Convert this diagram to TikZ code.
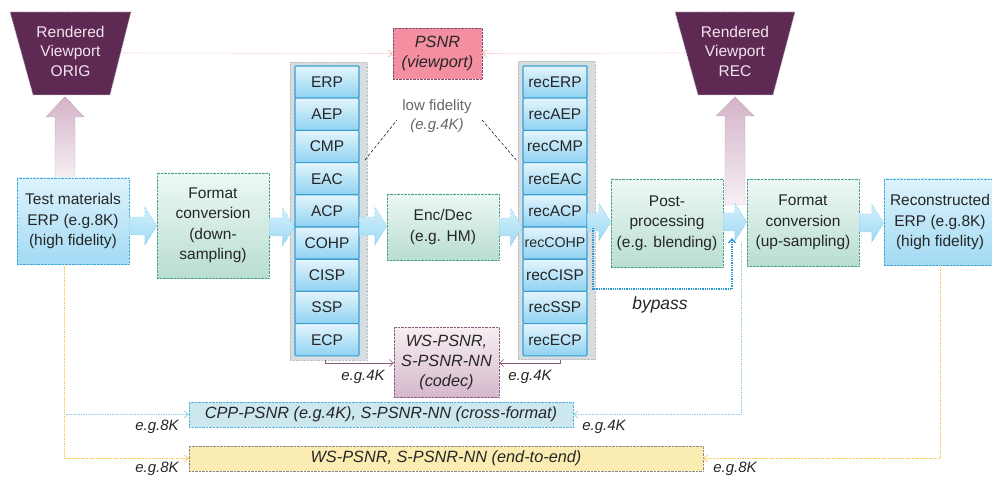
\documentclass[tikz,border=0pt]{standalone}
\usepackage{fontspec}
\setmainfont{Liberation Sans}
\usetikzlibrary{arrows.meta,calc}
\definecolor{plum}{HTML}{5E2A54}
\definecolor{plumtxt}{HTML}{F2E4EE}
\definecolor{bbord}{HTML}{3DA9DA}
\definecolor{btop}{HTML}{DDF3FC}
\definecolor{bbot}{HTML}{A3DAF4}
\definecolor{gbord}{HTML}{4B9C8A}
\definecolor{gtop}{HTML}{EDF8F4}
\definecolor{gbot}{HTML}{B9DED1}
\definecolor{ctop}{HTML}{E4F5FD}
\definecolor{cbot}{HTML}{8FD2F2}
\definecolor{cbord}{HTML}{3A9FD0}
\definecolor{colbgc}{HTML}{D6DDE1}
\definecolor{psnrfill}{HTML}{F48FA1}
\definecolor{psnrbord}{HTML}{7E5068}
\definecolor{ktop}{HTML}{F6EFF3}
\definecolor{kbot}{HTML}{D5B8CA}
\definecolor{kbord}{HTML}{8C5C7E}
\definecolor{cppfill}{HTML}{CDE7EF}
\definecolor{cppbord}{HTML}{4EB2DA}
\definecolor{yelfill}{HTML}{FBEDB2}
\definecolor{yelbord}{HTML}{8A8A8A}
\definecolor{ylinec}{HTML}{F7C948}
\definecolor{blinec}{HTML}{8FCFE6}
\definecolor{bypc}{HTML}{2A98D2}
\definecolor{pinkline}{HTML}{F4A0B0}
\definecolor{parrtop}{HTML}{D3B4C8}
\definecolor{parrbot}{HTML}{F7EFF4}
\definecolor{parrbord}{HTML}{6E3A62}
\definecolor{txt}{HTML}{262626}
\definecolor{blktop}{HTML}{D3F0FC}
\definecolor{blkbot}{HTML}{A0D9F3}
\definecolor{kline}{HTML}{8C5C7E}
\newcommand\hblk[3]{%
  \draw[blk] ($(#1.east |- 0,#3)+(0,-9)$) -- ($(#2.west |- 0,#3)+(-12,-9)$)
    -- ($(#2.west |- 0,#3)+(-12,-19)$) -- (#2.west |- 0,#3)
    -- ($(#2.west |- 0,#3)+(-12,19)$) -- ($(#2.west |- 0,#3)+(-12,9)$)
    -- ($(#1.east |- 0,#3)+(0,9)$) -- cycle;}
\begin{document}
\begin{tikzpicture}[x=1pt,y=-1pt,
  every node/.style={font=\fontsize{15.5}{20.5}\selectfont, text=txt, align=center, inner sep=0pt},
  bluebox/.style={draw=bbord, densely dotted, top color=btop, bottom color=bbot},
  greenbox/.style={draw=gbord, densely dotted, top color=gtop, bottom color=gbot},
  cellbox/.style={draw=cbord, line width=1.1pt, rounded corners=1pt, top color=ctop, bottom color=cbot, minimum width=64, minimum height=32.2},
  colback/.style={fill=colbgc, draw=gray!50, densely dotted, minimum width=77, minimum height=298},
  blk/.style={draw=bbord, densely dotted, top color=blktop, bottom color=blkbot},
  parr/.style={draw=parrbord, densely dotted, top color=parrtop, bottom color=parrbot},
  trap/.style={fill=plum, draw=gray!40, densely dotted, line width=0.8pt},
  ital/.style={font=\fontsize{16.3}{20}\selectfont\itshape},
  small/.style={font=\fontsize{15}{17}\selectfont\itshape, text=txt},
  plink/.style={draw=pinkline, densely dotted, line width=0.6pt, -{Straight Barb[length=4pt,width=7pt]}},
  klink/.style={draw=kline, line width=0.6pt, -{Straight Barb[length=4pt,width=7pt]}},
  ylink/.style={draw=ylinec, densely dotted, line width=0.7pt, -{Straight Barb[length=4pt,width=7pt]}},
  blink/.style={draw=blinec, densely dotted, line width=0.7pt, -{Straight Barb[length=4pt,width=7pt]}},
  bylink/.style={draw=bypc, densely dotted, line width=1.3pt, -{Straight Barb[length=4pt,width=7pt]}}
]
\useasboundingbox (0,0) rectangle (992,478);

% rendered viewports
\draw[trap] (10,12) -- (131,12) -- (110,95) -- (33,95) -- cycle;
\node[text=plumtxt, font=\fontsize{15.5}{19.5}\selectfont] (orig) at (70.5,51) {Rendered\\Viewport\\ORIG};
\draw[trap] (675,12) -- (795,12) -- (773,95) -- (698,95) -- cycle;
\node[text=plumtxt, font=\fontsize{15.5}{19.5}\selectfont] (rec) at (735,51) {Rendered\\Viewport\\REC};
\coordinate (origR) at (120.5,53);
\coordinate (recL) at (686,53);

% PSNR viewport
\node[draw=psnrbord, densely dotted, fill=psnrfill, minimum width=89, minimum height=51, ital] (psnr) at (437.5,53.5) {PSNR\\(viewport)};
\draw[plink] (origR) -- (psnr.west);
\draw[plink] (recL) -- (psnr.east);

% pink upward arrows
\draw[parr] (55,178) -- (55,117) -- (46,117) -- (65,97) -- (84,117) -- (75,117) -- (75,178) -- cycle;
\draw[parr] (725,205) -- (725,116) -- (716,116) -- (735,97) -- (754,116) -- (745,116) -- (745,205) -- cycle;

% main boxes
\node[bluebox, minimum width=112, minimum height=86] (test) at (73,221) {Test materials\\ERP (e.g.8K)\\(high fidelity)};
\node[greenbox, minimum width=112, minimum height=105] (fmtdown) at (213,225.5) {Format\\conversion\\(down-\\sampling)};
\node[greenbox, minimum width=112, minimum height=66] (encdec) at (443,227) {Enc/Dec\\(e.g. HM)};
\node[greenbox, minimum width=112, minimum height=88] (post) at (667,223) {Post-\\processing\\(e.g. blending)};
\node[greenbox, minimum width=112, minimum height=87] (fmtup) at (803,222.5) {Format\\conversion\\(up-sampling)};
\node[bluebox, minimum width=112, minimum height=86] (recon) at (940,222) {Reconstructed\\ERP (e.g.8K)\\(high fidelity)};

% columns
\node[colback] (lcol) at (328.5,211) {};
\node[colback] (rcol) at (556.5,210.5) {};
\foreach \t [count=\i] in {ERP,AEP,CMP,EAC,ACP,COHP,CISP,SSP,ECP}
  \node[cellbox] (l\i) at (327,{66+32.2*(\i-0.5)}) {\t};
\foreach \t/\s [count=\i] in {recERP/15.5,recAEP/15.5,recCMP/15.5,recEAC/15.5,recACP/15.5,recCOHP/14.2,recCISP/15.5,recSSP/15.5,recECP/15.5}
  \node[cellbox, font=\fontsize{\s}{17}\selectfont] (r\i) at (555,{66+32.2*(\i-0.5)}) {\t};

% block arrows
\hblk{test}{fmtdown}{226}
\hblk{fmtdown}{l5}{227}
\hblk{l5}{encdec}{226}
\hblk{encdec}{r5}{227}
\hblk{r5}{post}{222}
\hblk{post}{fmtup}{222}
\hblk{fmtup}{recon}{223}

% low fidelity
\node[font=\fontsize{15}{19}\selectfont, text=black!60] (lowfid) at (437,116) {low fidelity\\\textit{(e.g.4K)}};
\coordinate (lfA) at (365,160);
\coordinate (lfB) at (397,120);
\coordinate (lfC) at (482,120);
\coordinate (lfD) at (518,162);
\draw[densely dashed, line width=0.5pt] (lfA) -- (lfB);
\draw[densely dashed, line width=0.5pt] (lfC) -- (lfD);

% bypass
\coordinate (bs) at (593,228);
\coordinate (be) at (732,238);
\draw[bylink] (bs) -- ++(0,61) -| (be);
\node[font=\fontsize{17.5}{20}\selectfont\itshape, text=txt] (bypass) at (660,305) {bypass};

% codec metric
\node[draw=kbord, densely dotted, top color=ktop, bottom color=kbot, minimum width=105, minimum height=70, ital] (codec) at (446.5,362) {WS-PSNR,\\S-PSNR-NN\\(codec)};
\draw[klink] ($(lcol.south)+(-3,0)$) |- ($(codec.west)+(0,1)$);
\draw[klink] ($(rcol.south)+(4,0)$) |- ($(codec.east)+(0,1)$);
\node[small] (l4a) at (363,377) {e.g.4K};
\node[small] (l4b) at (530,377) {e.g.4K};

% cross-format metric
\node[draw=cppbord, densely dotted, fill=cppfill, minimum width=384, minimum height=25, ital] (cpp) at (381,414.5) {CPP-PSNR (e.g.4K), S-PSNR-NN (cross-format)};
% end-to-end metric
\node[draw=yelbord, densely dotted, fill=yelfill, minimum width=514, minimum height=25, ital] (yel) at (446,458.5) {WS-PSNR, S-PSNR-NN (end-to-end)};

\coordinate (ty) at ($(test.south)+(-9,0)$);
\coordinate (ry) at ($(recon.south)+(0,0)$);
\coordinate (bj) at (741,242);
\draw[blink] (ty |- cpp.west) -- (cpp.west);
\draw[blink] (bj) |- (cpp.east);
\draw[ylink] (ty) |- (yel.west);
\draw[ylink] (ry) |- (yel.east);

\node[small] (l8a) at (157,427) {e.g.8K};
\node[small] (l4c) at (604,427) {e.g.4K};
\node[small] (l8b) at (157,469) {e.g.8K};
\node[small] (l8c) at (735,469) {e.g.8K};
\end{tikzpicture}
\end{document}
